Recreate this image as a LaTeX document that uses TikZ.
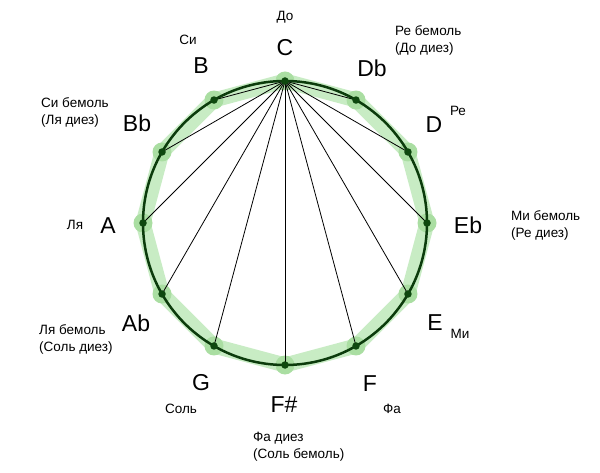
\documentclass[tikz,border=0pt]{standalone}
\usepackage{fontspec}
\setmainfont{Liberation Sans}
\definecolor{bandgreen}{RGB}{200,236,196}
\definecolor{blobgreen}{RGB}{170,222,162}
\definecolor{ringgreen}{RGB}{12,60,12}
\definecolor{dotgreen}{RGB}{14,72,14}
\begin{document}
\begin{tikzpicture}[x=1pt,y=-1pt,
  big/.style={font=\fontsize{23}{26}\selectfont, inner sep=0pt},
  small/.style={font=\fontsize{13.5}{17}\selectfont, inner sep=0pt, align=left},
  band/.style={draw=bandgreen, line width=15pt, line join=round, line cap=round},
  blob/.style={fill=blobgreen},
  chord/.style={draw=black, line width=0.8pt},
  ring/.style={draw=ringgreen, line width=2.5pt},
  dotnode/.style={circle, fill=dotgreen, minimum size=7.5pt, inner sep=0pt}]
\useasboundingbox (0,0) rectangle (600,473);
\fill[white] (0,0) rectangle (600,473);
% vertices
\foreach \n/\k in {C/0,Db/1,D/2,Eb/3,E/4,F/5,Fs/6,G/7,Ab/8,A/9,Bb/10,B/11}{
  \coordinate (p\n) at ({285+142*sin(30*\k)},{223-142*cos(30*\k)});
}
% green band polygon
\draw[band] (pC) -- (pDb) -- (pD) -- (pEb) -- (pE) -- (pF) -- (pFs) -- (pG) -- (pAb) -- (pA) -- (pBb) -- (pB) -- cycle;
\foreach \n in {C,Db,D,Eb,E,F,Fs,G,Ab,A,Bb,B}{
  \fill[blob] (p\n) circle (9.5);
}
% chords
\foreach \n in {Db,D,Eb,E,F,Fs,G,Ab,A,Bb,B}{
  \draw[chord] (pC) -- (p\n);
}
% circle
\node[circle, minimum size=284pt, inner sep=0pt, ring] (ring) at (285,223) {};
% dots
\foreach \n in {C,Db,D,Eb,E,F,Fs,G,Ab,A,Bb,B}{
  \node[dotnode] (d\n) at (p\n) {};
}
% big labels
\node[big] (lC) at (285,48) {C};
\node[big] (lDb) at (372,68) {Db};
\node[big] (lD) at (434,125) {D};
\node[big] (lEb) at (468,225) {Eb};
\node[big] (lE) at (435,323) {E};
\node[big] (lF) at (370,384) {F};
\node[big] (lFs) at (284,405) {F\#};
\node[big] (lG) at (201,383) {G};
\node[big] (lAb) at (136,323) {Ab};
\node[big] (lA) at (108,226) {A};
\node[big] (lBb) at (137,123) {Bb};
\node[big] (lB) at (201,66) {B};
% russian labels
\node[small] (rC) at (285,17) {До};
\node[small, anchor=west] (rDb) at (395,40) {Ре бемоль\\(До диез)};
\node[small] (rD) at (458,111) {Ре};
\node[small, anchor=west] (rEb) at (511,225) {Ми бемоль\\(Ре диез)};
\node[small] (rE) at (460,334) {Ми};
\node[small] (rF) at (392,409) {Фа};
\node[small, anchor=west] (rFs) at (253,447) {Фа диез\\(Соль бемоль)};
\node[small] (rG) at (181,409) {Соль};
\node[small, anchor=west] (rAb) at (39,339) {Ля бемоль\\(Соль диез)};
\node[small] (rA) at (75,225) {Ля};
\node[small, anchor=west] (rBb) at (41,112) {Си бемоль\\(Ля диез)};
\node[small] (rB) at (188,40) {Си};
\end{tikzpicture}
\end{document}
